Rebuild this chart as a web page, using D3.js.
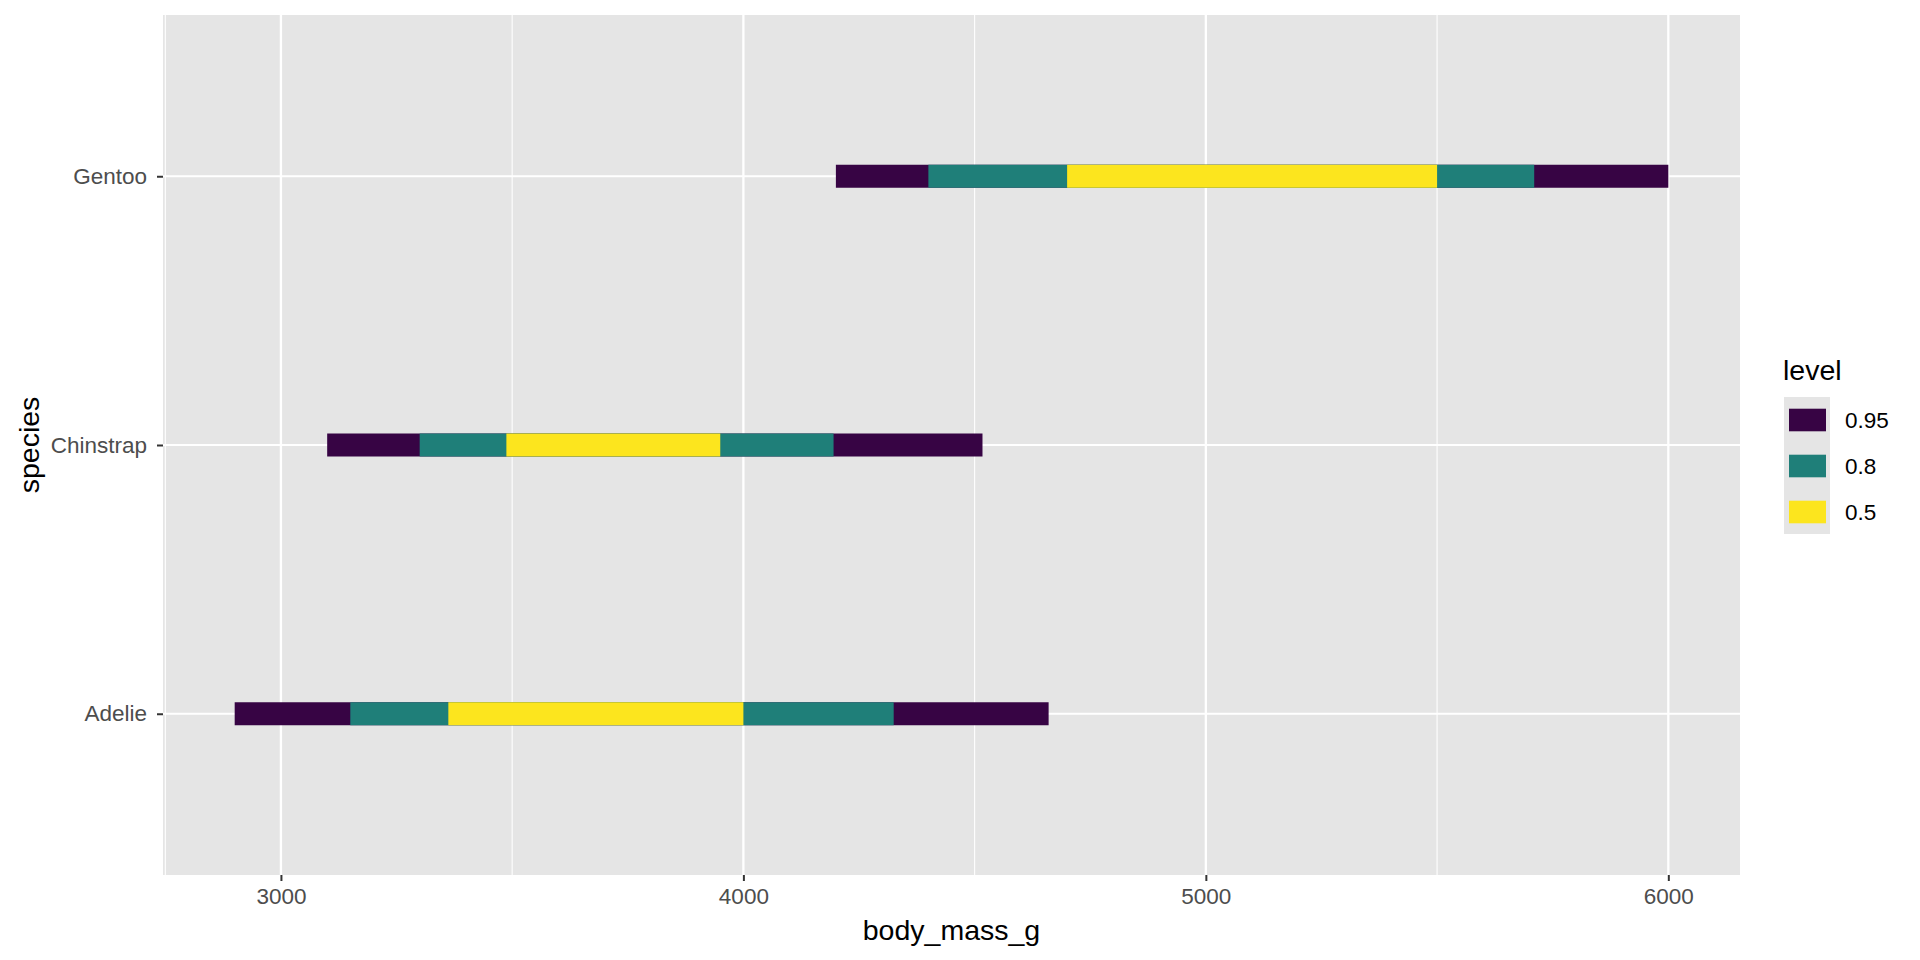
<!DOCTYPE html>
<html>
<head>
<meta charset="utf-8">
<script src="https://cdn.jsdelivr.net/npm/d3@7"></script>
<style>
  html, body { margin: 0; padding: 0; background: #ffffff; }
  svg { display: block; font-family: "Liberation Sans", Arial, Helvetica, sans-serif; }
</style>
</head>
<body>
<svg id="chart" width="1920" height="960"></svg>
<script>
// ---- data ----
const species = ["Adelie", "Chinstrap", "Gentoo"];
const levels = ["0.95", "0.8", "0.5"];
const lower95 = [2900, 3100, 4200];
const upper95 = [4660, 4517, 6000];
const lower80 = [3150, 3300, 4400];
const upper80 = [4325, 4195, 5710];
const lower50 = [3362, 3487.5, 4700];
const upper50 = [4000, 3950, 5500];
const xTicks = [3000, 4000, 5000, 6000];
const xMinorTicks = [2750, 3500, 4500, 5500];
const levelColors = ["#370444", "#1F7F79", "#FCE51E"];

// ---- layout ----
const svg = d3.select("#chart");
const panel = { left: 163, right: 1740, top: 15, bottom: 875 };
const tickFont = 22.5, titleFont = 28.5;

const lo = d3.min(lower95), hi = d3.max(upper95);
const pad = (hi - lo) * 0.05;
const x = d3.scaleLinear().domain([lo - pad, hi + pad]).range([panel.left, panel.right]);
const y = d3.scalePoint().domain(species).range([panel.bottom, panel.top]).padding(0.6);
const color = d3.scaleOrdinal().domain(levels).range(levelColors);

// panel background
svg.append("rect")
  .attr("x", panel.left).attr("y", panel.top)
  .attr("width", panel.right - panel.left).attr("height", panel.bottom - panel.top)
  .attr("fill", "#E5E5E5");

// grid
const g = svg.append("g");
g.selectAll(".minor").data(xMinorTicks).join("line")
  .attr("x1", d => x(d)).attr("x2", d => x(d))
  .attr("y1", panel.top).attr("y2", panel.bottom)
  .attr("stroke", "#ffffff").attr("stroke-width", 1.1);
g.selectAll(".majorx").data(xTicks).join("line")
  .attr("x1", d => x(d)).attr("x2", d => x(d))
  .attr("y1", panel.top).attr("y2", panel.bottom)
  .attr("stroke", "#ffffff").attr("stroke-width", 2.3);
g.selectAll(".majory").data(species).join("line")
  .attr("x1", panel.left).attr("x2", panel.right)
  .attr("y1", d => y(d)).attr("y2", d => y(d))
  .attr("stroke", "#ffffff").attr("stroke-width", 2.2);

// intervals
const barH = 23;
const intervals = [];
species.forEach((s, i) => {
  intervals.push({ s, level: "0.95", lo: lower95[i], hi: upper95[i] });
  intervals.push({ s, level: "0.8", lo: lower80[i], hi: upper80[i] });
  intervals.push({ s, level: "0.5", lo: lower50[i], hi: upper50[i] });
});
svg.append("g").selectAll("rect").data(intervals).join("rect")
  .attr("x", d => x(d.lo))
  .attr("width", d => x(d.hi) - x(d.lo))
  .attr("y", d => y(d.s) - barH / 2)
  .attr("height", barH)
  .attr("fill", d => color(d.level));

// x axis
const xAxis = d3.axisBottom(x).tickValues(xTicks).tickSize(6).tickPadding(7).tickFormat(d3.format("d"));
const gx = svg.append("g").attr("transform", `translate(0,${panel.bottom})`).call(xAxis);
gx.select(".domain").remove();
gx.selectAll(".tick line").attr("stroke", "#333333").attr("stroke-width", 2);
gx.selectAll(".tick text").attr("fill", "#4D4D4D").attr("font-size", tickFont)
  .attr("font-family", "Liberation Sans, Arial, sans-serif");

// y axis
const yAxis = d3.axisLeft(y).tickSize(6).tickPadding(10);
const gy = svg.append("g").attr("transform", `translate(${panel.left},0)`).call(yAxis);
gy.select(".domain").remove();
gy.selectAll(".tick line").attr("stroke", "#333333").attr("stroke-width", 2);
gy.selectAll(".tick text").attr("fill", "#4D4D4D").attr("font-size", tickFont)
  .attr("font-family", "Liberation Sans, Arial, sans-serif");

// axis titles
svg.append("text")
  .attr("x", (panel.left + panel.right) / 2).attr("y", 940)
  .attr("text-anchor", "middle").attr("font-size", titleFont).attr("fill", "#000")
  .text("body_mass_g");
svg.append("text")
  .attr("transform", `translate(39,${(panel.top + panel.bottom) / 2}) rotate(-90)`)
  .attr("text-anchor", "middle").attr("font-size", titleFont).attr("fill", "#000")
  .text("species");

// legend
const leg = svg.append("g");
leg.append("text").attr("x", 1783).attr("y", 380)
  .attr("font-size", titleFont).attr("fill", "#000").text("level");
leg.append("rect").attr("x", 1784).attr("y", 397).attr("width", 46).attr("height", 137)
  .attr("fill", "#E5E5E5");
const keyStep = 46;
levels.forEach((lv, i) => {
  const cy = 420 + i * keyStep;
  leg.append("rect").attr("x", 1789).attr("y", cy - 11.3).attr("width", 37).attr("height", 22.6)
    .attr("fill", color(lv));
  leg.append("text").attr("x", 1845).attr("y", cy).attr("dy", "0.35em")
    .attr("font-size", tickFont).attr("fill", "#000").text(lv);
});
</script>
</body>
</html>
